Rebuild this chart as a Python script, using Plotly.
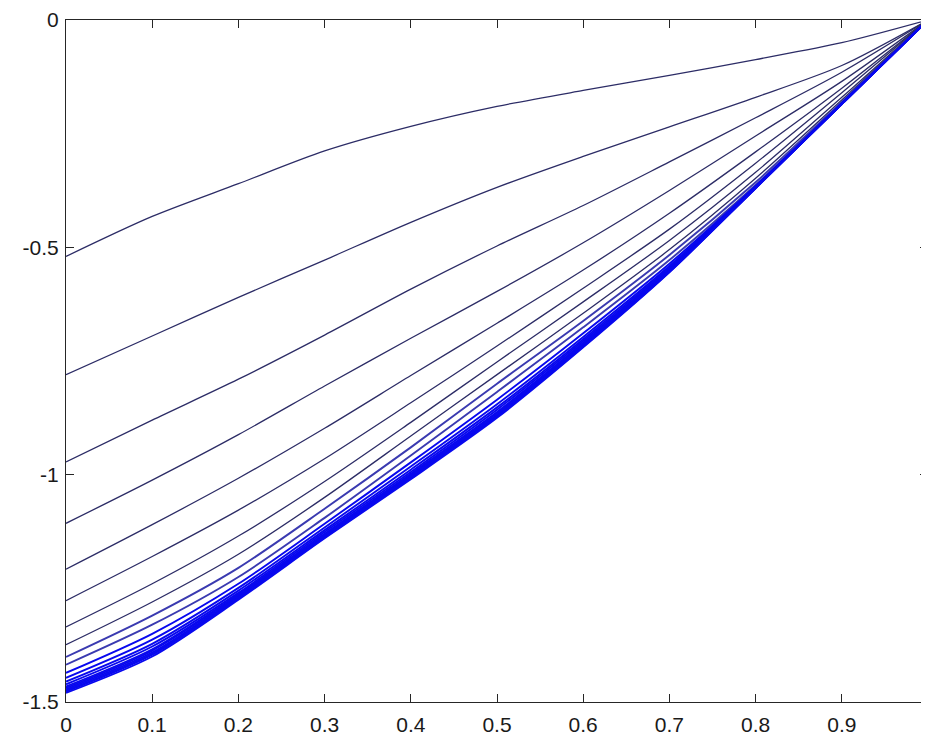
import plotly.graph_objects as go

x_vals = [0.0, 0.1, 0.2, 0.3, 0.4, 0.5, 0.6, 0.7, 0.8, 0.9, 1.0]

c01 = [-0.520, -0.432, -0.360, -0.288, -0.234, -0.190, -0.155, -0.122, -0.087, -0.050, 0]
c02 = [-0.780, -0.695, -0.610, -0.528, -0.445, -0.368, -0.300, -0.235, -0.170, -0.100, 0]
c03 = [-0.972, -0.880, -0.790, -0.693, -0.592, -0.497, -0.408, -0.312, -0.215, -0.115, 0]
c04 = [-1.107, -1.012, -0.912, -0.805, -0.700, -0.597, -0.490, -0.375, -0.255, -0.135, 0]
c05 = [-1.208, -1.110, -1.008, -0.898, -0.782, -0.667, -0.550, -0.425, -0.290, -0.150, 0]
c06 = [-1.277, -1.180, -1.078, -0.965, -0.842, -0.717, -0.590, -0.460, -0.315, -0.160, 0]
c07 = [-1.335, -1.240, -1.135, -1.015, -0.885, -0.752, -0.620, -0.485, -0.335, -0.170, 0]
c08 = [-1.374, -1.280, -1.175, -1.050, -0.915, -0.780, -0.645, -0.505, -0.348, -0.176, 0]
c09 = [-1.401, -1.310, -1.205, -1.075, -0.940, -0.800, -0.662, -0.517, -0.357, -0.180, 0]
c10 = [-1.418, -1.330, -1.225, -1.095, -0.958, -0.818, -0.676, -0.528, -0.363, -0.182, 0]
c11 = [-1.436, -1.350, -1.240, -1.108, -0.973, -0.835, -0.689, -0.536, -0.365, -0.183, 0]
c12 = [-1.447, -1.363, -1.249, -1.116, -0.982, -0.845, -0.697, -0.541, -0.366, -0.183, 0]
c13 = [-1.455, -1.372, -1.255, -1.122, -0.989, -0.852, -0.702, -0.544, -0.367, -0.184, 0]
c14 = [-1.461, -1.378, -1.260, -1.126, -0.994, -0.857, -0.706, -0.547, -0.368, -0.184, 0]
c15 = [-1.466, -1.384, -1.263, -1.130, -0.998, -0.862, -0.710, -0.549, -0.368, -0.184, 0]
c16 = [-1.469, -1.387, -1.266, -1.132, -1.001, -0.865, -0.712, -0.550, -0.369, -0.185, 0]
c17 = [-1.472, -1.391, -1.268, -1.134, -1.003, -0.868, -0.714, -0.551, -0.369, -0.185, 0]
c18 = [-1.475, -1.394, -1.271, -1.136, -1.006, -0.871, -0.717, -0.553, -0.369, -0.185, 0]
c19 = [-1.477, -1.396, -1.272, -1.138, -1.007, -0.872, -0.718, -0.554, -0.370, -0.185, 0]
c20 = [-1.480, -1.400, -1.275, -1.140, -1.010, -0.875, -0.720, -0.555, -0.370, -0.185, 0]

thin_curves = [c01, c02, c03, c04, c05, c06, c07, c08]
band_curves = [c09, c10, c11, c12, c13, c14, c15, c16, c17, c18, c19, c20]

x_tickvals = [0, 0.1, 0.2, 0.3, 0.4, 0.5, 0.6, 0.7, 0.8, 0.9]
x_ticktext = ["0", "0.1", "0.2", "0.3", "0.4", "0.5", "0.6", "0.7", "0.8", "0.9"]
y_tickvals = [0, -0.5, -1, -1.5]
y_ticktext = ["0", "-0.5", "-1", "-1.5"]

fig = go.Figure()
for c in thin_curves:
    fig.add_trace(go.Scatter(x=x_vals, y=c, mode="lines",
                             line=dict(color="#2c2c66", width=1.3, shape="spline", smoothing=0.8),
                             showlegend=False, hoverinfo="skip"))
for i, c in enumerate(band_curves):
    col = "#3a3ab0" if i < 2 else "#0808ee"
    fig.add_trace(go.Scatter(x=x_vals, y=c, mode="lines",
                             line=dict(color=col, width=1.9, shape="spline", smoothing=0.8),
                             showlegend=False, hoverinfo="skip"))

axis_common = dict(showgrid=False, zeroline=False, showline=True, linecolor="#262626",
                   linewidth=1.2, mirror="ticks", ticks="inside", ticklen=8,
                   tickcolor="#262626", tickwidth=1.2,
                   tickfont=dict(family="Liberation Sans, Arial, sans-serif", size=21, color="#1a1a1a"))

fig.update_xaxes(range=[0, 1], tickmode="array", tickvals=x_tickvals, ticktext=x_ticktext,
                 ticklabelstandoff=4, **axis_common)
fig.update_yaxes(range=[-1.5, 0], tickmode="array", tickvals=y_tickvals, ticktext=y_ticktext,
                 ticklabelstandoff=2, **axis_common)

# page body adds an 8px offset, so the figure is sized to end at the window edge
fig.update_layout(width=921, height=728, margin=dict(l=58, r=0, t=12, b=32),
                  paper_bgcolor="white", plot_bgcolor="white", showlegend=False)

fig.write_html("out.html")
